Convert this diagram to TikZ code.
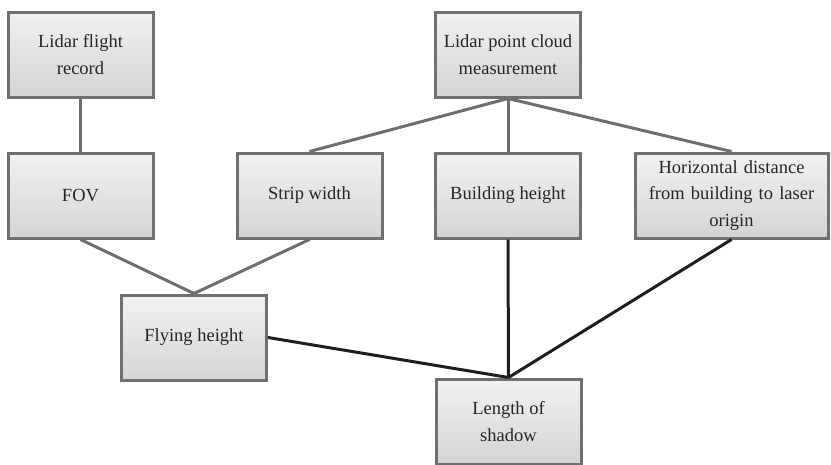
\documentclass[tikz,border=0pt]{standalone}
\usepackage{fontspec}
\setmainfont{Liberation Serif}
\definecolor{boxedge}{HTML}{707070}
\definecolor{boxtop}{HTML}{F2F2F2}
\definecolor{boxbot}{HTML}{D4D4D4}
\definecolor{linkgray}{HTML}{6E6E6E}
\definecolor{linkdark}{HTML}{1E1E1E}
\begin{document}
\begin{tikzpicture}[x=1pt,y=-1pt,
  box/.style={draw=boxedge, line width=3pt, top color=boxtop, bottom color=boxbot,
    minimum width=145pt, minimum height=85pt, inner sep=2pt, align=center,
    font=\fontsize{18.5}{26.5}\selectfont, text=black!85},
  graylink/.style={draw=linkgray, line width=3pt},
  darklink/.style={draw=linkdark, line width=3pt}]
\useasboundingbox (0,0) rectangle (831,464);
\node[box] (rec) at (80.5,54.5) {Lidar flight\\record};
\node[box] (pc) at (508,54.5) {Lidar point cloud\\measurement};
\node[box] (fov) at (80.5,195.5) {FOV};
\node[box] (sw) at (309.5,195.5) {Strip width};
\node[box] (bh) at (508,195.5) {Building height};
\node[box, minimum width=193pt, text width=185pt] (hd) at (731.5,195.5) {Horizontal distance\\from building to laser\\origin};
\node[box] (fh) at (194,337.5) {Flying height};
\node[box] (ls) at (508.5,421.5) {Length of\\shadow};
\draw[graylink] (rec.south) -- (fov.north);
\draw[graylink] (pc.south) -- (sw.north);
\draw[graylink] (pc.south) -- (bh.north);
\draw[graylink] (pc.south) -- (hd.north);
\draw[graylink] (fov.south) -- (fh.north);
\draw[graylink] (sw.south) -- (fh.north);
\draw[darklink] (fh.east) -- (ls.north);
\draw[darklink] (bh.south) -- (ls.north);
\draw[darklink] (hd.south) -- (ls.north);
\end{tikzpicture}
\end{document}
